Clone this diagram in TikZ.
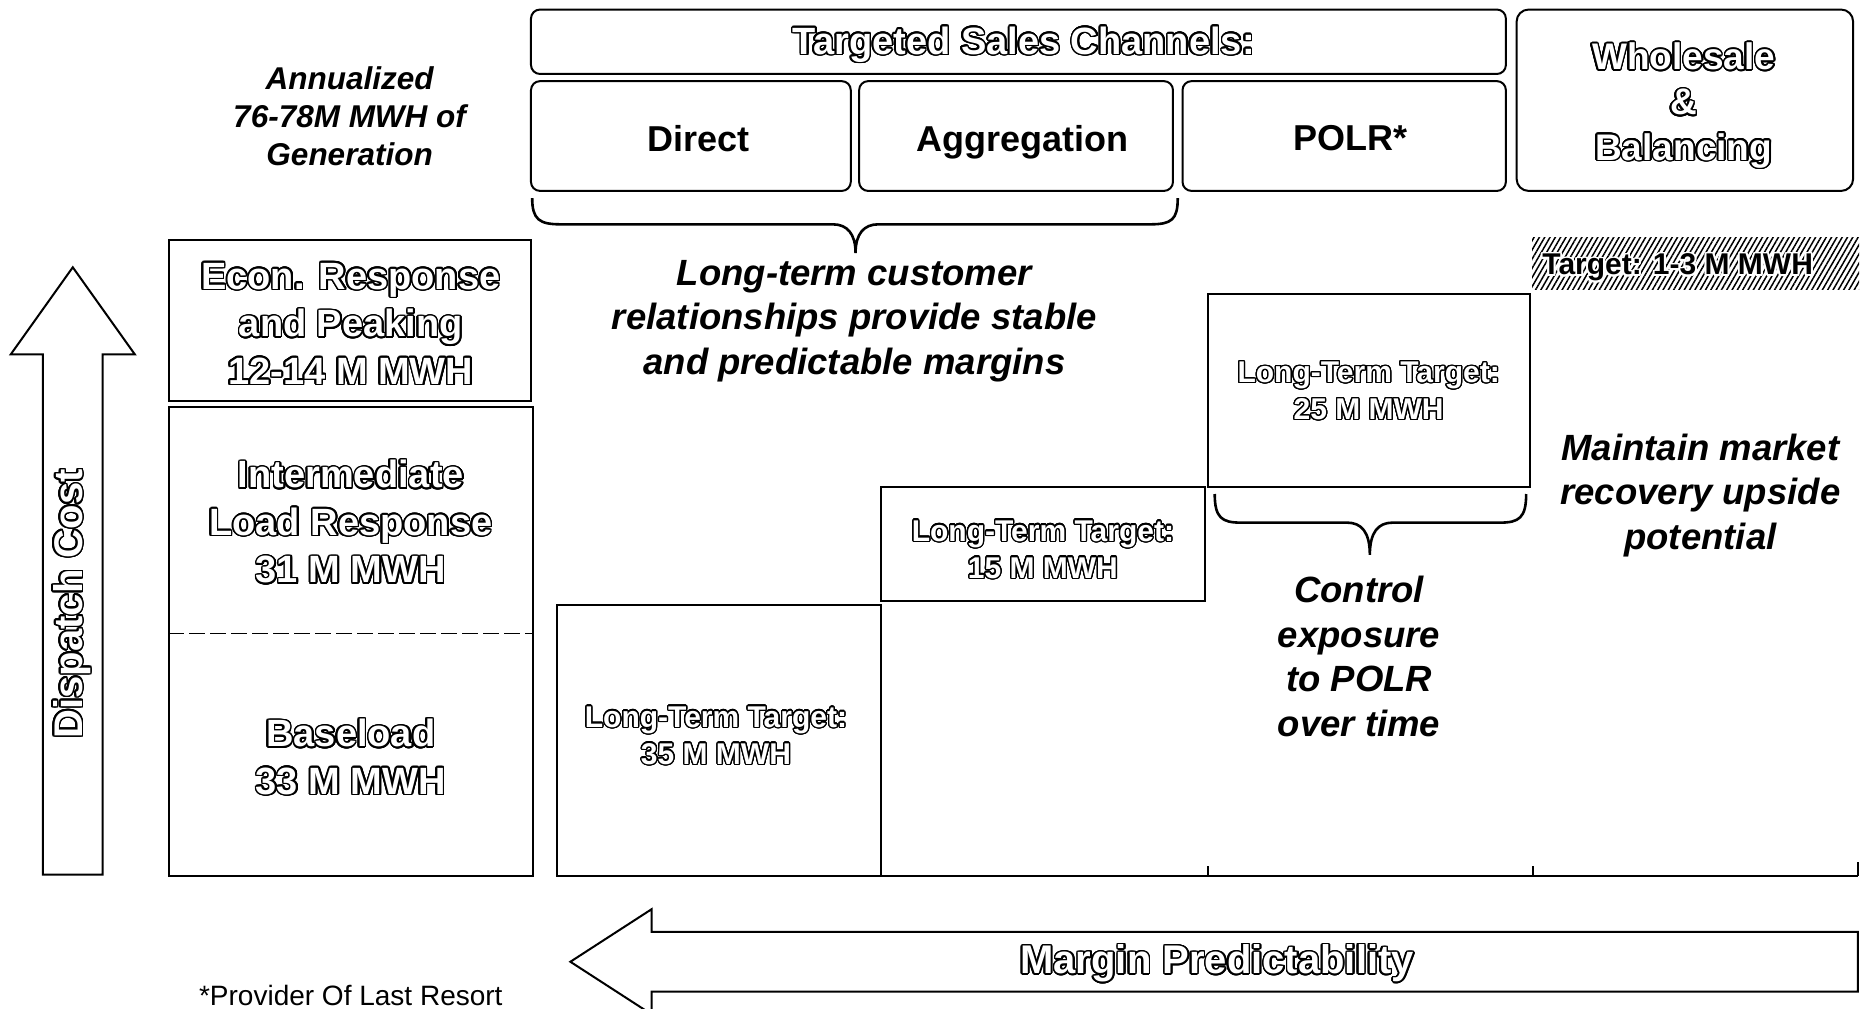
\documentclass[tikz,border=0pt]{standalone}
\usepackage{fontspec}
\setmainfont{Liberation Sans}
\usepackage{contour}
\contourlength{1.6pt}
\contournumber{24}
\usetikzlibrary{fit,patterns.meta}
\newcommand\olt[1]{\contour{black}{#1}}
\newcommand\olts[1]{{\contourlength{1.3pt}\contour{black}{#1}}}
\newcommand\wlt[1]{{\contourlength{1.8pt}\contour{white}{#1}}}
\begin{document}
\begin{tikzpicture}[x=1.1932pt,y=-1.1932pt,
  box/.style={draw,line width=2pt,inner sep=0pt},
  rbox/.style={box,rounded corners=9pt},
  lbl/.style={font=\bfseries\fontsize{36}{43}\selectfont,align=center},
  itx/.style={font=\bfseries\itshape\fontsize{36.5}{44.5}\selectfont,align=center},
  ann/.style={font=\bfseries\itshape\fontsize{31.5}{38}\selectfont,align=center},
  olt/.style={text=white,align=center,font=\bfseries\fontsize{38}{47.5}\selectfont},
  ltt/.style={text=white,align=center,font=\bfseries\fontsize{30}{37}\selectfont},
  brc/.style={line width=2.6pt},
  shp/.style={line width=2pt,line join=miter}]
\fill[white] (0,0) rectangle (1568,845);
\useasboundingbox (0,0) rectangle (1568,845);

% top channel boxes
\node[rbox,fit={(445,8) (1262,62)}] (tsc) {};
\node[olt] (tsct) at (858,38) {\olt{Targeted Sales Channels:}};
\node[rbox,fit={(445,68) (713,160)}] (direct) {};
\node[lbl] (directt) at (585,116) {Direct};
\node[rbox,fit={(720,68) (983,160)}] (aggr) {};
\node[lbl] (aggrt) at (857,119) {Aggregation};
\node[rbox,fit={(991,68) (1262,160)}] (polr) {};
\node[lbl] (polrt) at (1132,116) {POLR*};
\node[rbox,rounded corners=12pt,fit={(1271,8) (1553,160)}] (whole) {};
\node[olt,font=\bfseries\fontsize{37}{45.3}\selectfont] (wholet) at (1411,89) {\olt{Wholesale}\\\olt{\&}\\\olt{Balancing}};

\node[ann] (gen) at (293,97) {Annualized\\76-78M MWH of\\Generation};

% brace under Direct + Aggregation
\draw[brc] (446,166) .. controls (446,184) and (452,188) .. (470,188) -- (698,188)
  .. controls (710,188) and (717,196) .. (717,212)
  .. controls (717,196) and (724,188) .. (736,188) -- (964,188)
  .. controls (982,188) and (987,184) .. (987,166);
\node[itx] (ltc) at (716,269) {Long-term customer\\relationships provide stable\\and predictable margins};

% hatched target
\node[fit={(1284,199) (1558,243)},inner sep=0pt,pattern={Lines[angle=60,distance=4.6pt,line width=1.5pt]}] (tgt) {};
\node[font=\bfseries\fontsize{30}{36}\selectfont] (tgtt) at (1406,225) {\wlt{Target: 1-3 M MWH}};

% dispatch cost arrow
\draw[shp] (36,733) -- (36,297) -- (9,297) -- (61,224) -- (113,297) -- (86,297) -- (86,733) -- cycle;
\node[olt,rotate=90,font=\bfseries\fontsize{40}{48}\selectfont] (disp) at (61,506) {\olt{Dispatch Cost}};

% generation stack
\node[box,fit={(142,201) (445,336)}] (econ) {};
\node[olt] (econt) at (294,272) {\olt{Econ. Response}\\\olt{and Peaking}\\\olt{12-14 M MWH}};
\node[box,fit={(142,341) (447,734)}] (stack) {};
\coordinate (dl) at (stack.west |- 0,531);
\coordinate (dr) at (stack.east |- 0,531);
\draw[line width=1pt,dash pattern=on 16pt off 5pt] (dl) -- (dr);
\node[olt] (inter) at (294,438) {\olt{Intermediate}\\\olt{Load Response}\\\olt{31 M MWH}};
\node[olt] (base) at (294,635) {\olt{Baseload}\\\olt{33 M MWH}};

% long-term targets
\node[box,fit={(467,507) (738,734)}] (lt35) {};
\node[ltt] (lt35t) at (600,617) {\olts{Long-Term Target:}\\\olts{35 M MWH}};
\node[box,fit={(738,408) (1010,504)}] (lt15) {};
\node[ltt] (lt15t) at (874,461) {\olts{Long-Term Target:}\\\olts{15 M MWH}};
\node[box,fit={(1012,246) (1282,408)}] (lt25) {};
\node[ltt] (lt25t) at (1147,328) {\olts{Long-Term Target:}\\\olts{25 M MWH}};

% baseline and ticks
\coordinate (bl) at (467,734);
\coordinate (br) at (1557,734);
\draw[shp] (bl) -- (br);
\coordinate (t1) at (1012,734);
\coordinate (t2) at (1285,734);
\draw[shp] (t1) -- ++(0,-8);
\draw[shp] (t2) -- ++(0,-8);
\draw[shp] (br) -- ++(0,-12);

% brace under LT25
\draw[brc] (1018,414) .. controls (1018,434) and (1024,438) .. (1040,438) -- (1129,438)
  .. controls (1141,438) and (1148,446) .. (1148,465)
  .. controls (1148,446) and (1155,438) .. (1167,438) -- (1257,438)
  .. controls (1273,438) and (1279,434) .. (1279,414);
\node[itx] (ctl) at (1139,550) {Control\\exposure\\to POLR\\over time};
\node[itx] (mnt) at (1425,415) {Maintain market\\recovery upside\\potential};

% margin predictability arrow
\draw[shp] (478,806) -- (546,762) -- (546,781) -- (1557,781) -- (1557,831) -- (546,831) -- (546,850) -- cycle;
\node[olt,font=\bfseries\fontsize{40}{48}\selectfont] (mp) at (1020,808) {\olt{Margin Predictability}};

\node[font=\fontsize{28}{34}\selectfont] (prov) at (294,834) {*Provider Of Last Resort};
\end{tikzpicture}
\end{document}
